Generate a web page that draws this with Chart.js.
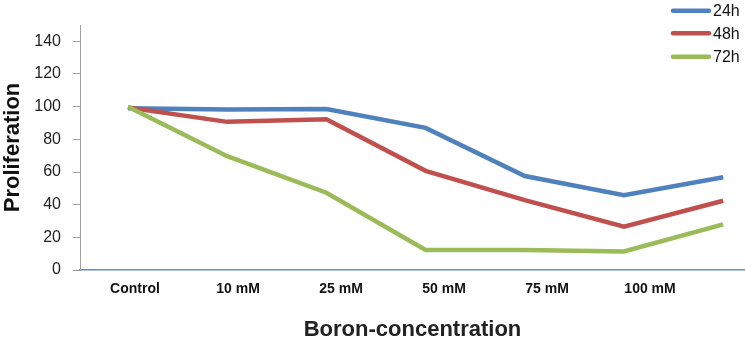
<!DOCTYPE html>
<html>
<head>
<meta charset="utf-8">
<script src="https://cdn.jsdelivr.net/npm/chart.js@4.4.1/dist/chart.umd.min.js"></script>
<style>
  html, body { margin: 0; padding: 0; background: #fff; }
  #wrap { width: 745px; height: 360px; position: relative; }
</style>
</head>
<body>
<div id="wrap"><canvas id="chart"></canvas></div>
<script>
// ---- Data ----
const categories = ['Control', '10 mM', '25 mM', '50 mM', '75 mM', '100 mM'];
const seriesNames = ['24h', '48h', '72h'];
const values24h = [99, 98.3, 98.5, 87, 57.5, 45.8, 56.8];
const values48h = [99.5, 90.7, 92.3, 60.7, 42.8, 26.5, 42.4];
const values72h = [100, 69.7, 47.3, 12.3, 12.3, 11.3, 27.9];
const yTicks = [0, 20, 40, 60, 80, 100, 120, 140];

const colors = ['#4F81BD', '#C0504D', '#9BBB59'];
const font = '"Liberation Sans", Arial, sans-serif';

function toPoints(arr) {
  return arr.map(function (v, i) { return { x: i, y: v }; });
}

// ---- Custom legend in the top right corner ----
const cornerLegend = {
  id: 'cornerLegend',
  afterDraw: function (chart) {
    const ctx = chart.ctx;
    const rows = [10.7, 33.3, 56.7];
    ctx.save();
    chart.data.datasets.forEach(function (ds, i) {
      ctx.strokeStyle = ds.borderColor;
      ctx.lineWidth = 4.5;
      ctx.lineCap = 'round';
      ctx.beginPath();
      ctx.moveTo(673, rows[i]);
      ctx.lineTo(709, rows[i]);
      ctx.stroke();
      ctx.fillStyle = '#111';
      ctx.font = '16px ' + font;
      ctx.textBaseline = 'middle';
      ctx.textAlign = 'left';
      ctx.fillText(ds.label, 713, rows[i] + 1);
    });
    ctx.restore();
  }
};

const datasets = [values24h, values48h, values72h].map(function (vals, i) {
  return {
    label: seriesNames[i],
    data: toPoints(vals),
    borderColor: colors[i],
    backgroundColor: colors[i],
    borderWidth: 4.5,
    pointRadius: 0,
    tension: 0,
    order: 3 - i,
    xAxisID: 'x',
    yAxisID: 'y'
  };
});

new Chart(document.getElementById('chart'), {
  type: 'line',
  data: { datasets: datasets },
  plugins: [cornerLegend],
  options: {
    responsive: true,
    maintainAspectRatio: false,
    animation: false,
    layout: { padding: { top: 25, right: 0, left: 0, bottom: 0 } },
    plugins: {
      legend: { display: false },
      tooltip: { enabled: false }
    },
    scales: {
      // data axis (points spaced evenly), not drawn
      x: {
        type: 'linear',
        display: false,
        min: -0.484,
        max: 6.22
      },
      // label axis for the category names
      x2: {
        type: 'linear',
        position: 'bottom',
        min: -0.534,
        max: 5.922,
        afterBuildTicks: function (scale) {
          scale.ticks = categories.map(function (c, i) { return { value: i }; });
        },
        afterFit: function (scale) { scale.height = 90; },
        grid: { display: false, drawTicks: false },
        border: { display: true, color: '#5E8FD0', width: 1.5 },
        ticks: {
          padding: 11,
          color: '#111',
          font: { family: font, size: 14, weight: 'bold' },
          maxRotation: 0,
          autoSkip: false,
          callback: function (v) { return categories[v]; }
        },
        title: {
          display: true,
          text: 'Boron-concentration',
          color: '#222',
          font: { family: font, size: 22, weight: 'bold' },
          padding: { top: 0, bottom: 17 }
        }
      },
      y: {
        min: 0,
        max: 150,
        afterBuildTicks: function (scale) {
          scale.ticks = yTicks.map(function (v) { return { value: v }; });
        },
        afterFit: function (scale) { scale.width = 80; },
        grid: { drawOnChartArea: false, drawTicks: true, tickLength: 7, color: '#A0A0A0' },
        border: { display: true, color: '#A0A0A0', width: 1 },
        ticks: {
          padding: 12,
          color: '#222',
          font: { family: font, size: 16 }
        },
        title: {
          display: true,
          text: 'Proliferation',
          color: '#111',
          font: { family: font, size: 22, weight: 'bold' },
          padding: { top: 0, bottom: 0 }
        }
      }
    }
  }
});
</script>
</body>
</html>
